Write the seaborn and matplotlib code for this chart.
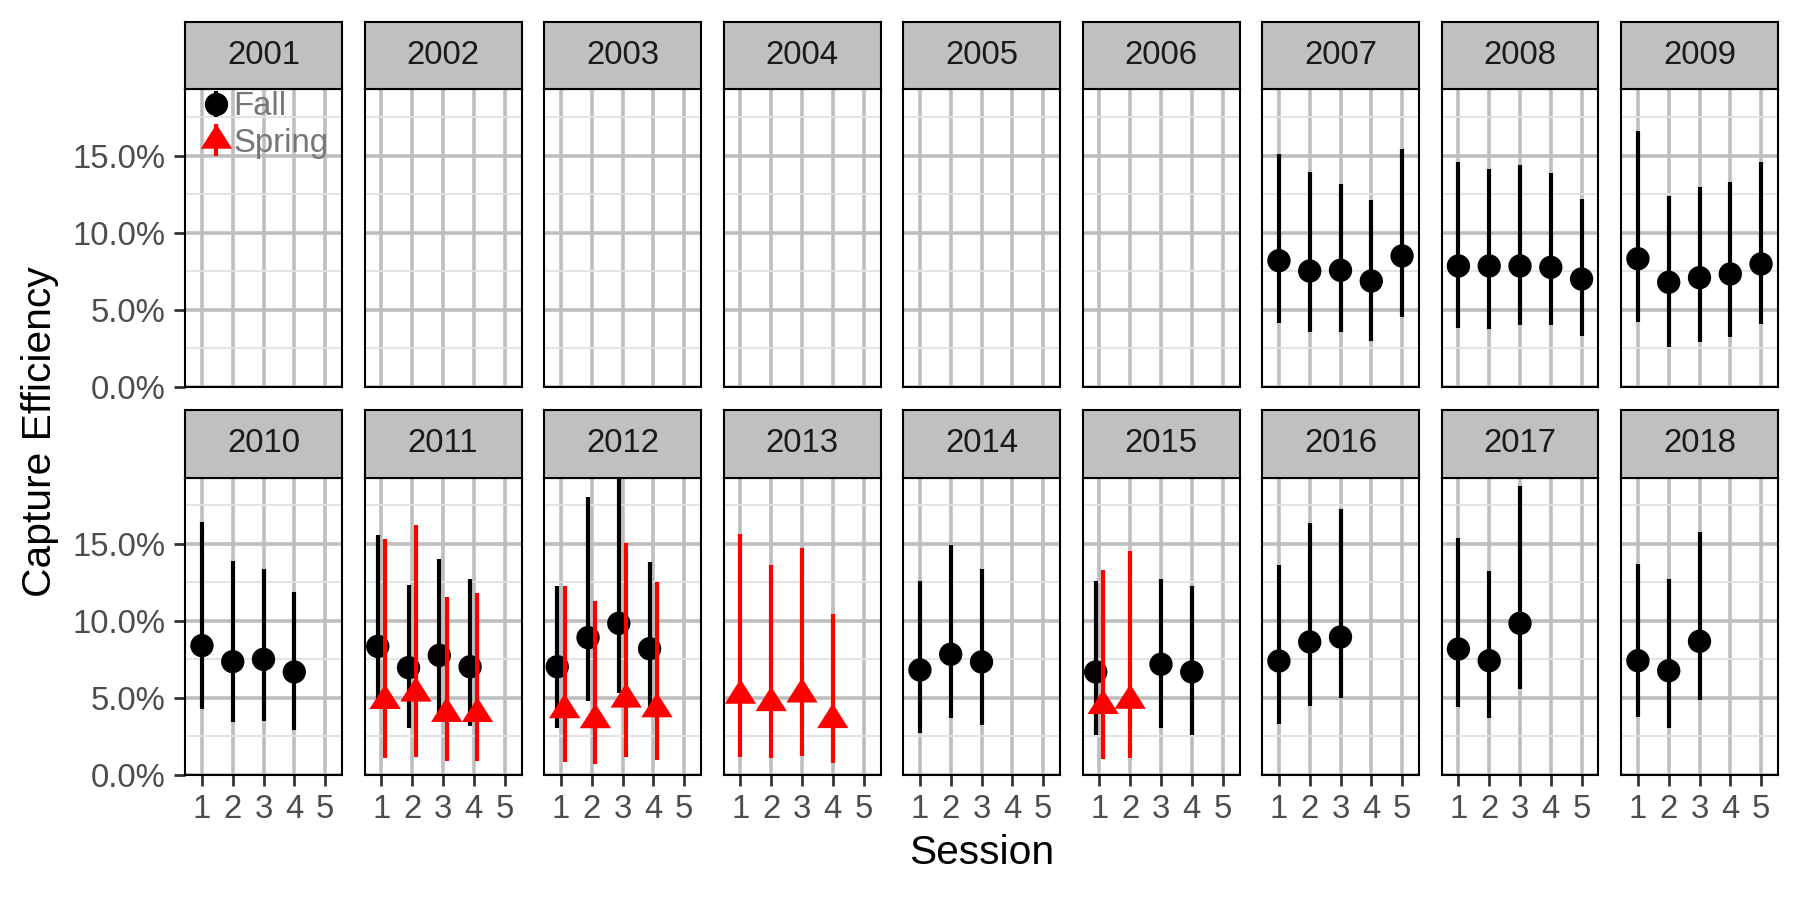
import matplotlib
matplotlib.use("Agg")
import matplotlib.pyplot as plt
import numpy as np
import pandas as pd
import seaborn as sns
from matplotlib.lines import Line2D
from matplotlib.legend_handler import HandlerTuple
from matplotlib.ticker import FuncFormatter

# ---------------- data ----------------
years = list(range(2001, 2019))
session_ticks = [1, 2, 3, 4, 5]
y_major = [0, 5, 10, 15]
y_minor = [2.5, 7.5, 12.5, 17.5]

fall_year = ([2007] * 5 + [2008] * 5 + [2009] * 5 + [2010] * 4 + [2011] * 4 + [2012] * 4
             + [2014] * 3 + [2015] * 3 + [2016] * 3 + [2017] * 3 + [2018] * 3)
fall_session = ([1, 2, 3, 4, 5] * 3 + [1, 2, 3, 4] * 3
                + [1, 2, 3] + [1, 3, 4] + [1, 2, 3] * 3)
fall_est = [8.18, 7.51, 7.56, 6.86, 8.49,
            7.84, 7.84, 7.84, 7.75, 6.99,
            8.31, 6.78, 7.08, 7.32, 7.97,
            8.40, 7.36, 7.51, 6.69,
            8.35, 6.97, 7.77, 7.03,
            7.03, 8.92, 9.85, 8.20,
            6.82, 7.84, 7.34,
            6.69, 7.19, 6.69,
            7.40, 8.64, 8.96,
            8.18, 7.42, 9.85,
            7.42, 6.77, 8.68]
fall_lo = [4.12, 3.57, 3.53, 2.99, 4.55,
           3.81, 3.77, 4.01, 4.03, 3.31,
           4.18, 2.56, 2.92, 3.21, 4.09,
           4.31, 3.46, 3.53, 2.92,
           4.40, 3.02, 3.80, 3.18,
           3.03, 4.81, 5.35, 4.40,
           2.71, 3.68, 3.25,
           2.60, 3.03, 2.60,
           3.33, 4.50, 5.02,
           4.44, 3.68, 5.60,
           3.79, 3.07, 4.85]
fall_hi = [15.09, 13.92, 13.16, 12.12, 15.43,
           14.57, 14.14, 14.42, 13.90, 12.17,
           16.58, 12.38, 12.95, 13.27, 14.57,
           16.41, 13.92, 13.36, 11.90,
           15.56, 12.34, 14.00, 12.71,
           12.27, 18.07, 20.50, 13.83,
           12.62, 14.94, 13.38,
           12.62, 12.75, 12.29,
           13.62, 16.38, 17.25,
           15.37, 13.27, 18.77,
           13.68, 12.75, 15.78]

spring_year = [2011] * 4 + [2012] * 4 + [2013] * 4 + [2015] * 2
spring_session = [1, 2, 3, 4] * 3 + [1, 2]
spring_est = [4.82, 5.30, 3.98, 3.97,
              4.22, 3.57, 4.91, 4.28,
              5.16, 4.68, 5.24, 3.58,
              4.49, 4.83]
spring_lo = [1.08, 1.19, 0.91, 0.91,
             0.87, 0.69, 1.15, 0.97,
             1.15, 1.10, 1.23, 0.78,
             1.04, 1.13]
spring_hi = [15.32, 16.21, 11.58, 11.80,
             12.27, 11.30, 15.08, 12.51,
             15.65, 13.62, 14.76, 10.47,
             13.31, 14.56]

# ---------------- styling ----------------
sns.set_theme(style="white")
plt.rcParams["font.family"] = ["Liberation Sans", "DejaVu Sans"]

DODGE = 0.12
YMAX = 19.31
FALL_COLOR = "black"
SPRING_COLOR = "#FF0000"
FS = 23.7
TITLE_FS = 29.3
# triangle with centroid at the origin (R style pch 17)
TRI = [(0.0, 16.47), (15.65, -8.23), (-15.65, -8.23)]

fall = pd.DataFrame(dict(Year=fall_year, Session=fall_session, est=fall_est,
                         lo=fall_lo, hi=fall_hi, Season="Fall"))
spring = pd.DataFrame(dict(Year=spring_year, Session=spring_session, est=spring_est,
                           lo=spring_lo, hi=spring_hi, Season="Spring"))
df = pd.concat([fall, spring], ignore_index=True)
cnt = df.groupby(["Year", "Session"])["Season"].transform("count")
df["x"] = df["Session"] + np.where(cnt > 1, np.where(df["Season"] == "Fall", -DODGE, DODGE), 0.0)

W, H = 1800, 900
fig = plt.figure(figsize=(18, 9), dpi=100)


def px_axes(left, top, width, height):
    return fig.add_axes([left / W, 1 - (top + height) / H, width / W, height / H])


PW, PH, STRIP = 157, 297.4, 67.5
for i, yr in enumerate(years):
    row, col = divmod(i, 9)
    left = 185 + col * 179.5
    ptop = 89.3 if row == 0 else 477.6
    ax = px_axes(left, ptop, PW, PH)
    sax = px_axes(left, ptop - STRIP, PW, STRIP)

    ax.set_facecolor("white")
    ax.set_xlim(0.45, 5.55)
    ax.set_ylim(0, YMAX)
    ax.set_xticks(session_ticks)
    ax.set_yticks(y_major)
    ax.set_yticks(y_minor, minor=True)
    ax.set_axisbelow(True)
    ax.grid(which="major", axis="both", color="#BEBEBE", lw=2.6)
    ax.grid(which="minor", axis="y", color="#E2E2E2", lw=1.3)
    ax.tick_params(which="minor", length=0)
    ax.tick_params(which="major", direction="out", length=8, width=2, color="#333333",
                   labelsize=FS, labelcolor="#4D4D4D", pad=6)
    ax.yaxis.set_major_formatter(FuncFormatter(lambda v, p: f"{v:.1f}%"))
    if col != 0:
        ax.tick_params(axis="y", left=False, labelleft=False)
    else:
        ax.tick_params(axis="y", left=True, labelleft=True)
    if row == 0:
        ax.tick_params(axis="x", bottom=False, labelbottom=False)
    else:
        ax.tick_params(axis="x", bottom=True, labelbottom=True)
    for s in ax.spines.values():
        s.set_color("black")
        s.set_linewidth(1.5)
        s.set_visible(True)

    f = df[(df.Year == yr) & (df.Season == "Fall")]
    sp = df[(df.Year == yr) & (df.Season == "Spring")]
    if len(f):
        ax.vlines(f["x"], f["lo"], f["hi"], color=FALL_COLOR, lw=3.0, zorder=2)
        sns.scatterplot(data=f, x="x", y="est", marker="o", s=282, color=FALL_COLOR,
                        linewidth=0, edgecolor="none", ax=ax, zorder=3, legend=False)
    if len(sp):
        ax.vlines(sp["x"], sp["lo"], sp["hi"], color=SPRING_COLOR, lw=3.0, zorder=4)
        sns.scatterplot(data=sp, x="x", y="est", marker=TRI, s=562, color=SPRING_COLOR,
                        linewidth=0, edgecolor="none", ax=ax, zorder=5, legend=False)
    ax.set_xlabel("")
    ax.set_ylabel("")

    sax.set_facecolor("#C0C0C0")
    sax.set_xticks([])
    sax.set_yticks([])
    for s in sax.spines.values():
        s.set_color("black")
        s.set_linewidth(1.5)
        s.set_visible(True)
    sax.text(0.5, 0.5, str(yr), ha="center", va="center", fontsize=FS,
             color="#1A1A1A", transform=sax.transAxes)

    if i == 0:
        h_fall = (Line2D([], [], marker="|", markersize=19, markeredgewidth=3.0,
                         color=FALL_COLOR, linestyle="none"),
                  Line2D([], [], marker="o", markersize=16.8, markeredgewidth=0,
                         color=FALL_COLOR, linestyle="none"))
        h_spring = (Line2D([], [], marker="|", markersize=23, markeredgewidth=3.0,
                           color=SPRING_COLOR, linestyle="none"),
                    Line2D([], [], marker=TRI, markersize=23.7, markeredgewidth=0,
                           color=SPRING_COLOR, linestyle="none"))
        leg = ax.legend(handles=[h_fall, h_spring], labels=["Fall", "Spring"],
                        handler_map={tuple: HandlerTuple(ndivide=1, pad=0)},
                        loc="upper left", bbox_to_anchor=(0.137, 0.993),
                        frameon=False, fontsize=FS, labelcolor="#777777",
                        handlelength=0.6, handletextpad=0.21, borderpad=0,
                        borderaxespad=0, labelspacing=0.16)

fig.text(40 / W, 1 - 432 / H, "Capture Efficiency", rotation=90, ha="center",
         va="center", fontsize=TITLE_FS, color="black")
fig.text(981.5 / W, 1 - 853 / H, "Session", ha="center", va="center",
         fontsize=TITLE_FS, color="black")

fig.savefig("out.png", dpi=100, facecolor="white")
